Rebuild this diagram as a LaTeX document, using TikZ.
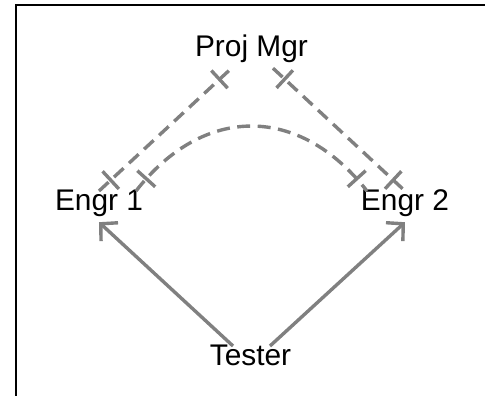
\documentclass[tikz,border=0pt]{standalone}
\usepackage{fontspec}
\setmainfont{Liberation Sans}
\usetikzlibrary{arrows.meta,decorations.markings}

\begin{document}
\begin{tikzpicture}[x=0.02cm,y=0.02cm,line width=0.068cm,
    role/.style={font=\fontsize{17}{20}\selectfont, anchor=base,
      inner sep=0.12cm, text height=0.7em, text depth=0.2em},
    tee/.style={draw=linkgray, dash pattern=on 0.26cm off 0.15cm,
      postaction={decorate}, decoration={markings,
        mark=at position 0.32cm with {\draw[linkgray,solid] (0,-0.24cm) -- (0,0.24cm);},
        mark=at position -0.32cm with {\draw[linkgray,solid] (0,-0.24cm) -- (0,0.24cm);}}},
    flow/.style={draw=linkgray, -{Straight Barb[length=0.24cm,width=0.5cm]}}]
\definecolor{linkgray}{rgb}{0.5, 0.5, 0.5}
  \useasboundingbox (0,0) rectangle (485,396);

  % frame, only its left and top edges show
  \draw[line width=0.04cm] (16,0) -- (16,391) -- (485,391);

  \node[role] (pm) at (251.5,339) {Proj Mgr};
  \node[role] (e1) at (99,185)    {Engr 1};
  \node[role] (e2) at (405,185)   {Engr 2};
  \node[role] (te) at (250.5,30)  {Tester};

  % dashed links with a bar near each end
  \draw[tee] (e1.north) -- ([xshift=-0.4cm]pm.south);
  \draw[tee] ([xshift=0.43cm]pm.south) -- (e2.north);
  \draw[tee] ([xshift=0.74cm]e1.north)
      to[out=52, in=128, looseness=1.22] ([xshift=-0.76cm]e2.north);

  % tester reports to both engineers
  \draw[flow] ([xshift=-0.35cm]te.north) -- (e1.south);
  \draw[flow] ([xshift=0.39cm]te.north) -- (e2.south);

\end{tikzpicture}
\end{document}
